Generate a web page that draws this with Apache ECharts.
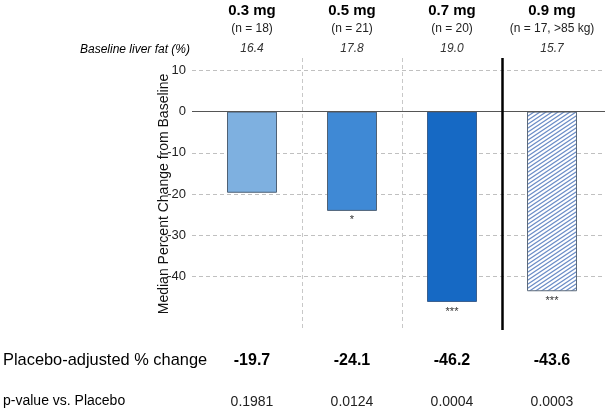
<!DOCTYPE html>
<html><head><meta charset="utf-8">
<script src="https://cdn.jsdelivr.net/npm/echarts@6/dist/echarts.min.js"></script>
<style>html,body{margin:0;padding:0;background:#fff}#c{width:605px;height:419px}</style>
</head><body><div id="c"></div>
<script>
const doses = ['0.3 mg', '0.5 mg', '0.7 mg', '0.9 mg'];
const groupN = ['(n = 18)', '(n = 21)', '(n = 20)', '(n = 17, >85 kg)'];
const baselineFat = ['16.4', '17.8', '19.0', '15.7'];
const medianChange = [-19.7, -24.1, -46.2, -43.6];
const significance = ['', '*', '***', '***'];
const placeboAdjusted = ['-19.7', '-24.1', '-46.2', '-43.6'];
const pValues = ['0.1981', '0.0124', '0.0004', '0.0003'];
const yTickLabels = [10, 0, -10, -20, -30, -40];
const yGridLines = [10, -10, -20, -30, -40];
const groupDividers = [0.5, 1.5];
const separatorAt = 2.5;

const FONT = '"Liberation Sans", Arial, sans-serif';

// hatch pattern
const pc = document.createElement('canvas');
pc.width = 6; pc.height = 4;
const ctx = pc.getContext('2d');
ctx.fillStyle = '#ffffff'; ctx.fillRect(0, 0, 6, 4);
ctx.strokeStyle = '#6a8cc6'; ctx.lineWidth = 1.2;
ctx.beginPath();
ctx.moveTo(-6, 8); ctx.lineTo(12, -4);
ctx.moveTo(-6, 4); ctx.lineTo(6, -4);
ctx.moveTo(0, 8); ctx.lineTo(12, 0);
ctx.stroke();

const fills = ['#7eb0e0', '#3f89d5', '#1669c4', {image: pc, repeat: 'repeat'}];
const borders = ['#4f6175', '#4f6175', '#3a5f8e', '#5d6b7c'];

const idx = v => Math.round(v);
const catX = doses.map((d, i) => i);

const baseX = {type: 'value', min: -0.6, max: 3.53, gridIndex: 0,
  axisLine: {show: false}, axisTick: {show: false}, splitLine: {show: false}};

const chart = echarts.init(document.getElementById('c'), null, {renderer: 'canvas'});
chart.setOption({
  backgroundColor: '#fff',
  animation: false,
  textStyle: {fontFamily: FONT},
  grid: {left: 192, right: 0, top: 58, bottom: 89, containLabel: false},
  xAxis: [
    Object.assign({}, baseX, {position: 'top',
      axisTick: {show: false, customValues: groupDividers},
      splitLine: {show: true, lineStyle: {color: '#c8c8c8', type: [4, 3], width: 1}},
      axisLabel: {customValues: catX, formatter: v => baselineFat[idx(v)], fontStyle: 'italic', fontSize: 12, color: '#333', fontFamily: FONT, margin: 3}}),
    Object.assign({}, baseX, {position: 'top', offset: 21,
      axisLabel: {customValues: catX, formatter: v => groupN[idx(v)], fontSize: 12, color: '#222', fontFamily: FONT, margin: 2}}),
    Object.assign({}, baseX, {position: 'top', offset: 40,
      axisLabel: {customValues: catX, formatter: v => doses[idx(v)], fontSize: 15, fontWeight: 'bold', color: '#000', fontFamily: FONT, margin: 0}}),
    Object.assign({}, baseX, {position: 'bottom', offset: 0,
      axisLabel: {customValues: catX, formatter: v => placeboAdjusted[idx(v)], fontSize: 16, fontWeight: 'bold', color: '#000', fontFamily: FONT, margin: 23}}),
    Object.assign({}, baseX, {position: 'bottom', offset: 42,
      axisLabel: {customValues: catX, formatter: v => pValues[idx(v)], fontSize: 14, color: '#222', fontFamily: FONT, margin: 23}})
  ],
  yAxis: {
    type: 'value', min: -53, max: 13,
    axisLine: {show: false},
    axisTick: {show: false, customValues: yGridLines},
    splitLine: {show: true, lineStyle: {color: '#c0c0c0', type: [4, 3], width: 1}},
    axisLabel: {customValues: yTickLabels, fontSize: 13, color: '#222', fontFamily: FONT, margin: 6},
    name: 'Median Percent Change from Baseline', nameLocation: 'middle', nameGap: 21,
    nameMoveOverlap: false,
    nameTextStyle: {fontSize: 14, color: '#111', fontFamily: FONT}
  },
  series: [{
    type: 'bar', xAxisIndex: 0, yAxisIndex: 0, barWidth: 50,
    data: medianChange.map((v, i) => ({
      value: [i, v],
      itemStyle: {color: fills[i], borderColor: borders[i], borderWidth: 1},
      label: {show: true, position: 'bottom', distance: 4, formatter: significance[i], fontSize: 11, color: '#333', fontFamily: FONT}
    })),
    markLine: {
      silent: true, symbol: 'none', label: {show: false}, animation: false,
      data: [
        {yAxis: 0, lineStyle: {color: '#555', type: 'solid', width: 1}},
        {xAxis: separatorAt, lineStyle: {color: '#000', type: 'solid', width: 2.5}}
      ]
    }
  }],
  graphic: [
    {type: 'text', x: 190, y: 50, style: {text: 'Baseline liver fat (%)', font: 'italic 12px ' + FONT, fill: '#000', align: 'right', verticalAlign: 'middle'}},
    {type: 'text', x: 3, y: 360, style: {text: 'Placebo-adjusted % change', font: '16.4px ' + FONT, fill: '#000', align: 'left', verticalAlign: 'middle'}},
    {type: 'text', x: 3, y: 401, style: {text: 'p-value vs. Placebo', font: '14px ' + FONT, fill: '#000', align: 'left', verticalAlign: 'middle'}}
  ]
});
</script></body></html>
